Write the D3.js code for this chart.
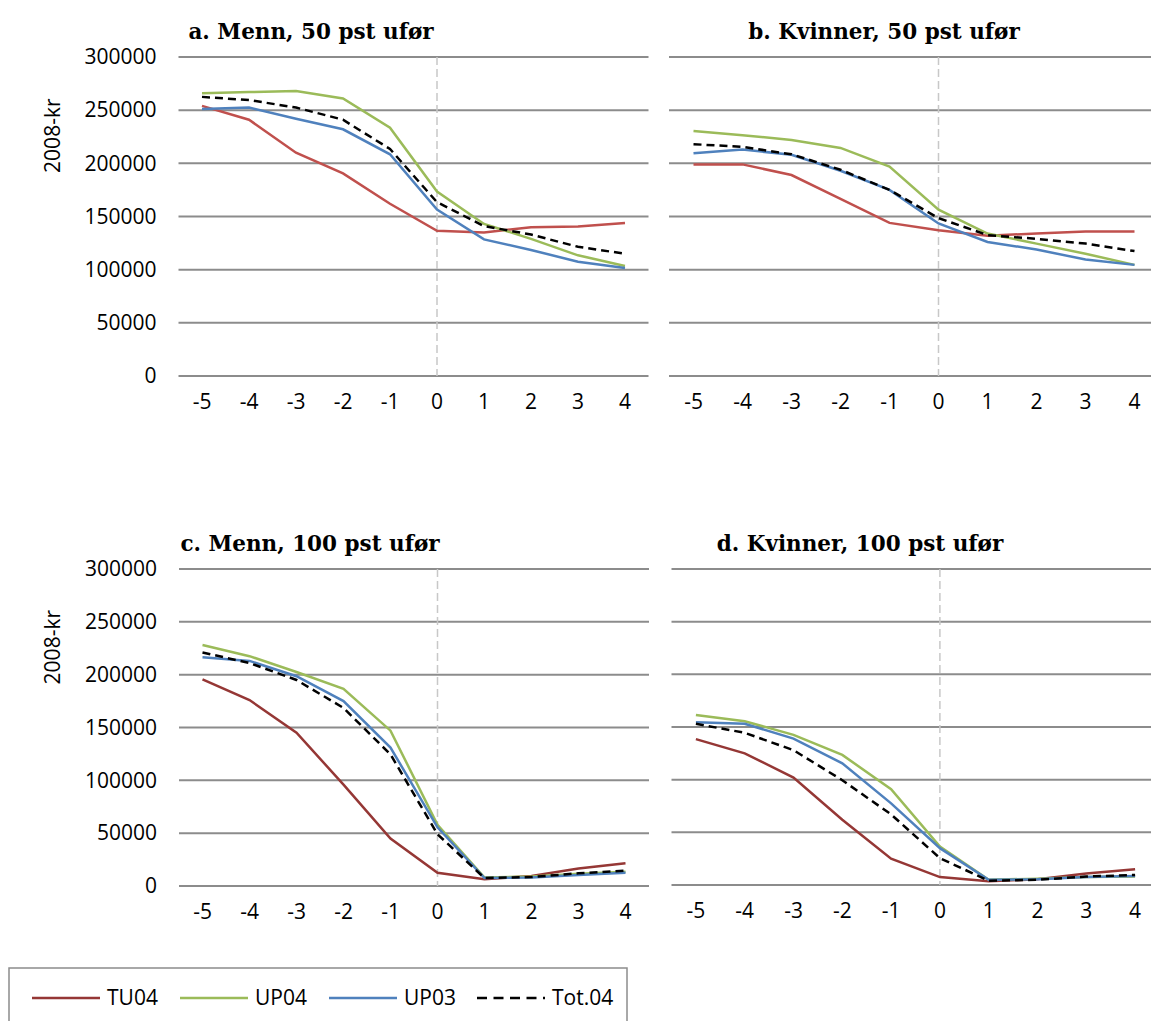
<!DOCTYPE html>
<html>
<head>
<meta charset="utf-8">
<script src="https://cdn.jsdelivr.net/npm/d3@7"></script>
<style>
  body { margin: 0; background: #fff; }
  svg { display: block; }
  .tick text { font-family: "Open Sans", sans-serif; font-size: 21px; fill: #000; }
</style>
</head>
<body>
<div id="chart"></div>
<script>
// categories (years relative to disability)
var years = [-5, -4, -3, -2, -1, 0, 1, 2, 3, 4];
var yTicks = [0, 50000, 100000, 150000, 200000, 250000, 300000];
var seriesNames = ['TU04', 'UP04', 'UP03', 'Tot.04'];

// a. Menn, 50 pst ufør
var menn50TU04 = [254000, 241000, 210000, 190500, 162000, 136500, 135000, 140000, 140500, 144000];
var menn50UP04 = [266000, 267000, 268000, 261000, 233500, 173500, 143000, 129000, 113500, 103500];
var menn50UP03 = [251000, 252500, 242000, 232000, 208500, 156500, 128500, 118500, 107500, 101500];
var menn50Tot04 = [262500, 259500, 252500, 241000, 213500, 163500, 141000, 133000, 121500, 115000];

// b. Kvinner, 50 pst ufør
var kvinner50TU04 = [199000, 199000, 189000, 166500, 144000, 137000, 132000, 134000, 136000, 136000];
var kvinner50UP04 = [230500, 226500, 222000, 214500, 197000, 156500, 134000, 124500, 115000, 104500];
var kvinner50UP03 = [209500, 213000, 208000, 193000, 175000, 143500, 126000, 119000, 109500, 104500];
var kvinner50Tot04 = [218000, 215500, 208500, 194000, 175000, 148500, 132500, 129000, 124500, 117500];

// c. Menn, 100 pst ufør
var menn100TU04 = [195500, 176000, 145000, 96000, 45000, 12500, 6500, 9500, 16500, 21500];
var menn100UP04 = [228000, 217500, 202500, 186500, 147000, 58000, 8000, 9000, 11500, 13500];
var menn100UP03 = [216500, 213000, 198500, 175000, 131000, 55500, 7500, 8000, 10500, 12500];
var menn100Tot04 = [221000, 211000, 195000, 168500, 124500, 49000, 7500, 8500, 12000, 14500];

// d. Kvinner, 100 pst ufør
var kvinner100TU04 = [138500, 125000, 102000, 62000, 25000, 7500, 3500, 5500, 11000, 15000];
var kvinner100UP04 = [161500, 155500, 142500, 123500, 91000, 36500, 5000, 6000, 7500, 8000];
var kvinner100UP03 = [154500, 153000, 139000, 115500, 77500, 35000, 5000, 5500, 7500, 8500];
var kvinner100Tot04 = [153000, 144500, 128000, 99500, 67000, 25500, 4000, 5000, 8000, 9500];

var panelTitles = ['a. Menn, 50 pst uf\u00f8r', 'b. Kvinner, 50 pst uf\u00f8r',
                   'c. Menn, 100 pst uf\u00f8r', 'd. Kvinner, 100 pst uf\u00f8r'];

// svg area
var svgWidth = 1151;
var svgHeight = 1021;

var svg = d3.select('#chart')
  .append('svg')
  .attr('width', svgWidth)
  .attr('height', svgHeight);

// panel boxes (plot areas) and title centres
var panels = [
  { title: panelTitles[0], left: 178.5, top: 57, width: 470, height: 319, titleX: 311, yLabels: true,
    values: [menn50TU04, menn50UP04, menn50UP03, menn50Tot04], red: '#c0504d' },
  { title: panelTitles[1], left: 669, top: 57, width: 490, height: 319, titleX: 884, yLabels: false,
    values: [kvinner50TU04, kvinner50UP04, kvinner50UP03, kvinner50Tot04], red: '#c0504d' },
  { title: panelTitles[2], left: 179, top: 569, width: 470, height: 317, titleX: 310, yLabels: true,
    values: [menn100TU04, menn100UP04, menn100UP03, menn100Tot04], red: '#953735' },
  { title: panelTitles[3], left: 671.5, top: 569, width: 488, height: 316, titleX: 860, yLabels: false,
    values: [kvinner100TU04, kvinner100UP04, kvinner100UP03, kvinner100Tot04], red: '#953735' }
];

var green = '#9bbb59';
var blue = '#4f81bd';

panels.forEach(function(p) {

  var g = svg.append('g')
    .attr('transform', `translate(${p.left}, ${p.top})`);

  var xScale = d3.scaleBand()
    .domain(years)
    .range([0, p.width])
    .padding(0);

  var yScale = d3.scaleLinear()
    .domain([0, 300000])
    .range([p.height, 0]);

  // horizontal gridlines
  g.append('g')
    .selectAll('line')
    .data(yTicks)
    .enter()
    .append('line')
    .attr('x1', 0)
    .attr('x2', p.width)
    .attr('y1', d => yScale(d))
    .attr('y2', d => yScale(d))
    .attr('stroke', '#8c8c8c')
    .attr('stroke-width', 2);

  // dashed marker at year 0
  g.append('line')
    .attr('x1', xScale(0) + xScale.bandwidth() / 2)
    .attr('x2', xScale(0) + xScale.bandwidth() / 2)
    .attr('y1', 0)
    .attr('y2', p.height)
    .attr('stroke', '#c8c8c8')
    .attr('stroke-width', 1.5)
    .attr('stroke-dasharray', '8,4');

  // y axis labels
  if (p.yLabels) {
    var leftAxis = d3.axisLeft(yScale)
      .tickValues(yTicks)
      .tickFormat(d3.format('d'))
      .tickSize(0)
      .tickPadding(22);
    g.append('g').call(leftAxis).call(a => a.select('.domain').remove());

    g.append('text')
      .attr('transform', `translate(${53 - p.left}, ${yScale(226000)}) rotate(-90)`)
      .attr('text-anchor', 'middle')
      .attr('dy', '0.35em')
      .style('font-family', '"Open Sans", sans-serif')
      .style('font-size', '21px')
      .text('2008-kr');
  }

  // x axis labels
  var bottomAxis = d3.axisBottom(xScale)
    .tickSize(0)
    .tickPadding(18);
  g.append('g')
    .attr('transform', `translate(0, ${p.height})`)
    .call(bottomAxis)
    .call(a => a.select('.domain').remove());

  // lines
  var line = d3.line()
    .x((d, i) => xScale(years[i]) + xScale.bandwidth() / 2)
    .y(d => yScale(d));

  var colors = [p.red, green, blue, '#000'];
  // draw order: TU04, UP04, UP03, Tot.04 on top
  p.values.forEach(function(vals, i) {
    g.append('path')
      .datum(vals)
      .attr('d', line)
      .attr('fill', 'none')
      .attr('stroke', colors[i])
      .attr('stroke-width', 2.5)
      .attr('stroke-dasharray', i === 3 ? '8,5' : null);
  });

  // panel title
  svg.append('text')
    .attr('x', p.titleX)
    .attr('y', p.top - 18)
    .attr('text-anchor', 'middle')
    .style('font-family', '"DejaVu Serif", serif')
    .style('font-weight', 'bold')
    .style('font-size', '21.5px')
    .text(p.title);
});

// legend
var legend = svg.append('g');

legend.append('rect')
  .attr('x', 9)
  .attr('y', 968)
  .attr('width', 618)
  .attr('height', 80)
  .attr('fill', '#fff')
  .attr('stroke', '#8c8c8c')
  .attr('stroke-width', 1.5);

var legendColors = ['#953735', green, blue, '#000'];
var legendX = [32, 180, 329, 477];

seriesNames.forEach(function(name, i) {
  legend.append('line')
    .attr('x1', legendX[i])
    .attr('x2', legendX[i] + 68)
    .attr('y1', 998)
    .attr('y2', 998)
    .attr('stroke', legendColors[i])
    .attr('stroke-width', 2.5)
    .attr('stroke-dasharray', i === 3 ? '10,6.5' : null);

  legend.append('text')
    .attr('x', legendX[i] + 75)
    .attr('y', 998)
    .attr('dy', '0.35em')
    .style('font-family', '"Open Sans", sans-serif')
    .style('font-size', '21px')
    .text(name);
});
</script>
</body>
</html>
